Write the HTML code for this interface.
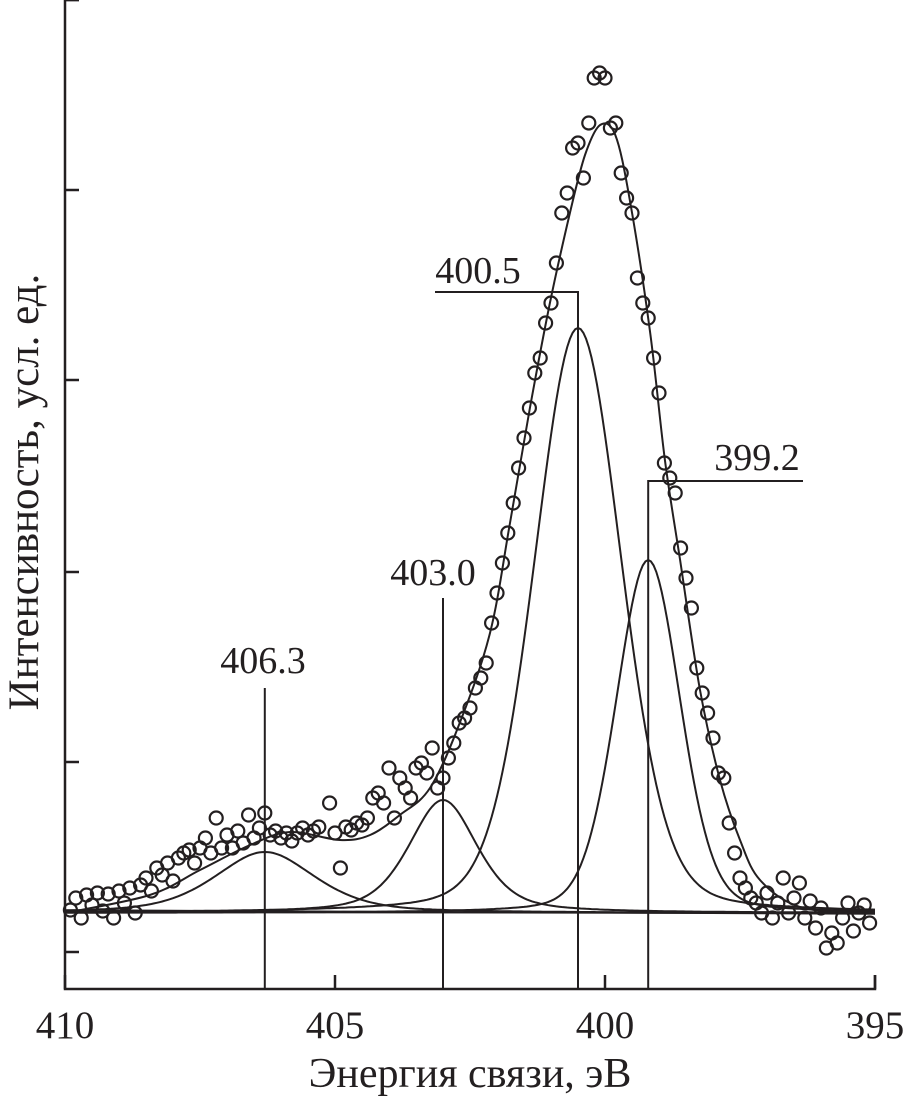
<!DOCTYPE html>
<html><head><meta charset="utf-8"><style>
html,body{margin:0;padding:0;background:#fff}
svg{display:block}
text{font-family:"Liberation Serif","DejaVu Serif",serif;fill:#231f20}
</style></head><body>
<svg id="chart" width="906" height="1099" viewBox="0 0 906 1099" xmlns="http://www.w3.org/2000/svg">
<g id="axes"></g>
<g id="curves"></g>
<g id="points"></g>
<g id="annots"></g>
<text x="470" y="1087" font-size="42" text-anchor="middle">Энергия связи, эВ</text>
<text transform="translate(38,492) rotate(-90)" font-size="43" text-anchor="middle">Интенсивность, усл. ед.</text>
</svg>
<script>
const xTicks = [410, 405, 400, 395];
const yTicks = [-3.9, 15.1, 34.1, 53.3, 72.3, 91.3];
const peakCenters = [406.3, 403.0, 400.5, 399.2];
const peakHeights = [6.1, 11.3, 58.5, 35.3];
const peakWidths = [2.2, 1.5, 1.9, 1.4];
const peakMix = [0.5, 0.5, 0.2, 0.2];
const peakLabels = ["406.3", "403.0", "400.5", "399.2"];
const envE = [410,408.43,407.5,406.57,405.83,404.91,404.35,403.8,403.24,402.69,402.13,401.76,401.39,401.02,400.65,400.37,400.09,399.81,399.54,399.17,398.89,398.61,398.24,397.87,397.5,397.13,396.39,395.2];
const envI = [0,1.8,4.3,6.8,8.1,7.3,7.8,9.8,12.5,19.0,28.0,39.0,50.5,61.0,70.0,75.8,78.8,77.8,71.3,58.3,45.3,35.3,22.3,13.3,7.3,3.3,0.6,0];
const ptE = [409.9,409.8,409.7,409.6,409.5,409.4,409.3,409.2,409.1,409.0,408.9,408.8,408.7,408.6,408.5,408.4,408.3,408.2,408.1,408.0,407.9,407.8,407.7,407.6,407.5,407.4,407.3,407.2,407.1,407.0,406.9,406.8,406.7,406.6,406.5,406.4,406.3,406.2,406.1,406.0,405.9,405.8,405.7,405.6,405.5,405.4,405.3,405.1,405.0,404.9,404.8,404.7,404.6,404.5,404.4,404.3,404.2,404.1,404.0,403.9,403.8,403.7,403.6,403.5,403.4,403.3,403.2,403.1,403.0,402.9,402.8,402.7,402.6,402.5,402.4,402.3,402.2,402.1,402.0,401.9,401.8,401.7,401.6,401.5,401.4,401.3,401.2,401.1,401.0,400.9,400.8,400.7,400.6,400.5,400.4,400.3,400.2,400.1,400.0,399.9,399.8,399.7,399.6,399.5,399.4,399.3,399.2,399.1,399.0,398.9,398.8,398.7,398.6,398.5,398.4,398.3,398.2,398.1,398.0,397.9,397.8,397.7,397.6,397.5,397.4,397.3,397.2,397.1,397.0,396.9,396.8,396.7,396.6,396.5,396.4,396.3,396.2,396.1,396.0,395.9,395.8,395.7,395.6,395.5,395.4,395.3,395.2,395.1];
const ptI = [0.3,1.5,-0.5,1.8,0.8,2.0,0.2,1.9,-0.5,2.2,1.0,2.5,0.0,2.8,3.5,2.2,4.5,3.8,5.0,3.2,5.5,6.0,6.3,5.0,6.5,7.5,6.0,9.5,6.5,7.8,6.5,8.2,7.0,9.8,7.5,8.5,10.0,7.8,8.2,7.5,8.0,7.2,8.0,8.5,7.8,8.2,8.6,11.0,8.0,4.5,8.6,8.3,9.0,8.8,9.5,11.5,12.0,11.0,14.5,9.5,13.5,12.5,11.5,14.5,15.0,14.0,16.5,12.5,13.5,15.5,17.0,19.0,19.5,20.5,22.5,23.5,25.0,29.0,32.0,35.0,38.0,41.0,44.5,47.5,50.5,54.0,55.5,59.0,61.0,65.0,70.0,72.0,76.5,77.0,73.5,79.0,83.5,84.0,83.5,78.5,79.0,74.0,71.5,70.0,63.5,61.0,59.5,55.5,52.0,45.0,43.5,42.0,36.5,33.5,30.5,24.5,22.0,20.0,17.5,14.0,13.5,9.0,6.0,3.5,2.5,1.5,1.0,0.0,2.0,-0.5,1.0,3.5,0.0,1.5,3.0,-0.5,1.2,-1.5,0.5,-3.5,-2.0,-3.0,-0.5,1.0,-1.8,0.0,0.8,-1.0];

const NS = "http://www.w3.org/2000/svg";
const X0 = 65, X1 = 875, Y0 = 913, YB = 989;
const xs = e => X0 + (410 - e) * (X1 - X0) / 15;
const ys = v => Y0 - v * 10;
function mk(tag, attrs, parent) {
  const el = document.createElementNS(NS, tag);
  for (const k in attrs) el.setAttribute(k, attrs[k]);
  parent.appendChild(el);
  return el;
}
const axes = document.getElementById('axes');
let el = mk('path', {d:`M${X0},0 H${X0+14} M${X0},0 V${YB} H${X1} V${YB-14}`, fill:'none', stroke:'#231f20', 'stroke-width':2.5}, axes);


yTicks.forEach(v => {
  const t = mk('line', {x1:X0, x2:X0+14, y1:ys(v), y2:ys(v), stroke:'#231f20', 'stroke-width':2.5}, axes);
  
  
});
xTicks.forEach(e => {
  const t = mk('line', {x1:xs(e), x2:xs(e), y1:YB, y2:YB-14, stroke:'#231f20', 'stroke-width':2.5}, axes);
  
  
  const l = mk('text', {x:xs(e), y:1038, 'font-size':39, 'text-anchor':'middle'}, axes);
  l.textContent = e;
  
  
});
const curves = document.getElementById('curves');
function comp(i, e) {
  const d = (e - peakCenters[i]) / (peakWidths[i] / 2);
  const g = Math.exp(-Math.LN2 * d * d), lo = 1 / (1 + d * d);
  return peakHeights[i] * (peakMix[i] * lo + (1 - peakMix[i]) * g);
}
el = mk('line', {x1:X0, x2:X1, y1:ys(0.1), y2:ys(0), stroke:'#231f20', 'stroke-width':2}, curves);


el = mk('line', {x1:X0, x2:X1, y1:ys(0.3), y2:ys(-0.1), stroke:'#231f20', 'stroke-width':1.5}, curves);


peakCenters.forEach((c, i) => {
  let d = '';
  for (let k = 0; k <= 300; k++) {
    const e = 410 - k * 15 / 300;
    d += (k ? 'L' : 'M') + xs(e).toFixed(1) + ',' + ys(comp(i, e)).toFixed(1);
  }
  const p = mk('path', {d, fill:'none', stroke:'#231f20', 'stroke-width':2}, curves);
  
  
});
const P = envE.map((e, k) => [xs(e), ys(envI[k])]);
let ed = `M${P[0][0].toFixed(1)},${P[0][1].toFixed(1)}`;
for (let k = 0; k < P.length - 1; k++) {
  const p0 = P[Math.max(0, k-1)], p1 = P[k], p2 = P[k+1], p3 = P[Math.min(P.length-1, k+2)];
  const c1 = [p1[0] + (p2[0]-p0[0])/6, p1[1] + (p2[1]-p0[1])/6];
  const c2 = [p2[0] - (p3[0]-p1[0])/6, p2[1] - (p3[1]-p1[1])/6];
  ed += `C${c1[0].toFixed(1)},${c1[1].toFixed(1)} ${c2[0].toFixed(1)},${c2[1].toFixed(1)} ${p2[0].toFixed(1)},${p2[1].toFixed(1)}`;
}
el = mk('path', {d:ed, fill:'none', stroke:'#231f20', 'stroke-width':2}, curves);


const pts = document.getElementById('points');
ptE.forEach((e, k) => {
  const c = mk('circle', {cx:xs(e), cy:ys(ptI[k]), r:6.5, fill:'none', stroke:'#231f20', 'stroke-width':2.2}, pts);
  
  
});
const an = document.getElementById('annots');
const lineTop = [688, 598, 292, 481];
const tpos = [[263, 673], [433, 585], [478, 283], [757, 470]];
peakCenters.forEach((c, i) => {
  const x = xs(c);
  let d = `M${x},${YB} V${lineTop[i]}`;
  if (i === 2) d += ` H435`;
  if (i === 3) d += ` H803`;
  const p = mk('path', {d, fill:'none', stroke:'#231f20', 'stroke-width':2}, an);
  
  
  const t = mk('text', {x:tpos[i][0], y:tpos[i][1], 'font-size':38, 'text-anchor':'middle'}, an);
  t.textContent = peakLabels[i];
  
  
});
</script>
</body></html>
